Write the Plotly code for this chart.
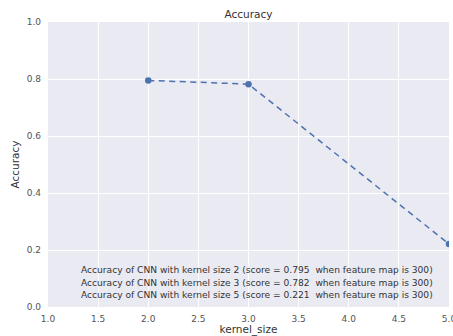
import plotly.graph_objects as go

kernel_sizes = [2, 3, 5]
scores = [0.795, 0.782, 0.221]
feature_map = 300
x_ticks = [1.0, 1.5, 2.0, 2.5, 3.0, 3.5, 4.0, 4.5, 5.0]
y_ticks = [0.0, 0.2, 0.4, 0.6, 0.8, 1.0]
legend_texts = [
    f"Accuracy of CNN with kernel size {k} (score = {s:.3f}\u00a0\u00a0when feature map is {feature_map})"
    for k, s in zip(kernel_sizes, scores)
]

color = "#4C72B0"
fig = go.Figure()
fig.add_trace(go.Scatter(
    x=kernel_sizes, y=scores, mode="lines+markers",
    line=dict(color=color, width=1.5, dash="6px,4.5px"),
    marker=dict(color=color, size=6.5),
    showlegend=False, cliponaxis=True,
))

# legend-like text block
legend_y = [0.1298, 0.0842, 0.0421]
for txt, yy in zip(legend_texts, legend_y):
    fig.add_annotation(x=0.0773, y=yy, xref="paper", yref="paper", text=txt,
                       showarrow=False, xanchor="left", yanchor="middle",
                       font=dict(size=9.1, color="#333333"))

fig.update_layout(
    width=453, height=336,
    margin=dict(l=48, r=4, t=22, b=29, autoexpand=False),
    paper_bgcolor="white", plot_bgcolor="#EAEAF2",
    font=dict(family="DejaVu Sans", size=9, color="#555555"),
    title=dict(text="Accuracy", x=0.5, xref="paper", xanchor="center",
               y=1 - 14 / 336, yref="container", yanchor="middle",
               font=dict(size=10.5, color="#333333")),
    showlegend=False,
)
fig.update_xaxes(range=[1, 5], tickvals=x_ticks, ticktext=[f"{v:.1f}" for v in x_ticks],
                 showgrid=True, gridcolor="white", gridwidth=1, zeroline=False,
                 automargin=False, ticklabeloverflow="allow",
                 title=dict(text="kernel_size", standoff=3, font=dict(size=10.5, color="#333333")),
                 ticks="", ticklabelstandoff=5)
fig.update_yaxes(range=[0, 1], tickvals=y_ticks, ticktext=[f"{v:.1f}" for v in y_ticks],
                 showgrid=True, gridcolor="white", gridwidth=1, zeroline=False,
                 automargin=False, ticklabeloverflow="allow",
                 title=dict(text="Accuracy", standoff=4, font=dict(size=10.5, color="#333333")),
                 ticks="", ticklabelstandoff=6)
fig.write_html("out.html", config={"displayModeBar": False},
               post_script="document.body.style.margin='0';document.body.style.overflow='hidden';")
